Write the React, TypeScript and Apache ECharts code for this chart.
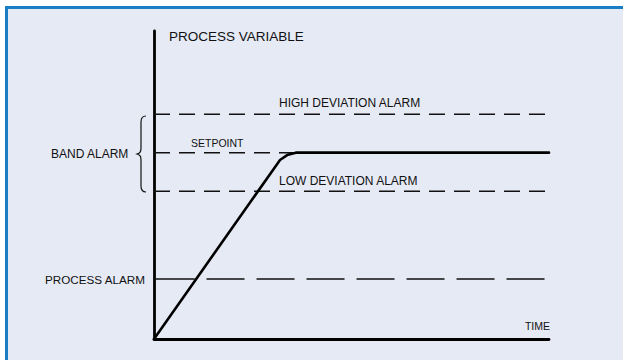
import React, { useEffect, useRef } from "react";
import * as echarts from "echarts";

// ---- data (axis units: time 0..100, process variable 0..100) ----
const timeRange = [0, 100];
const pvRange = [0, 100];
const highDeviationLevel = 73;
const setpointLevel = 60.5;
const lowDeviationLevel = 48;
const processAlarmLevel = 19.5;
const processAlarmSolidSpan = [-2.3, 10.3];
const processAlarmDashedSpan = [13.3, 100];
const pvTime = [0, 29.9, 31.9, 33.7, 35.9, 100];
const pvValue = [0, 54.5, 58.1, 59.7, 60.5, 60.5];

const labels = {
  yName: "PROCESS VARIABLE",
  xName: "TIME",
  high: "HIGH DEVIATION ALARM",
  setpoint: "SETPOINT",
  low: "LOW DEVIATION ALARM",
  band: "BAND ALARM",
  process: "PROCESS ALARM",
};

const FONT = "Liberation Sans";
const INK = "#111111";

export default function App() {
  const ref = useRef<HTMLDivElement>(null);
  useEffect(() => {
    if (!ref.current) return;
    echarts.graphic.registerShape(
      "brace",
      echarts.graphic.extendPath(
        "M146 116 C142 116 141 118 141 122 L141 148 C141 152 140 153 137 154 C140 155 141 156 141 160 L141 186 C141 190 142 192 146 192",
        {}
      )
    );
    const chart = echarts.init(ref.current, null, { renderer: "svg" });
    const hline = (y: number, x0: number, x1: number) => [
      [x0, y],
      [x1, y],
    ];
    const dashStyle = { color: INK, width: 1.5, type: [16, 9] as any };
    chart.setOption({
      animation: false,
      backgroundColor: "#ffffff",
      grid: { left: 154, right: 74, top: 31, bottom: 21 },
      xAxis: {
        type: "value",
        min: timeRange[0],
        max: timeRange[1],
        axisLine: { show: true, onZero: false, lineStyle: { color: "#000", width: 2.8 } },
        axisTick: { show: false },
        axisLabel: { show: false },
        splitLine: { show: false },
      },
      yAxis: {
        type: "value",
        min: pvRange[0],
        max: pvRange[1],
        axisLine: { show: true, onZero: false, lineStyle: { color: "#000", width: 2.8 } },
        axisTick: { show: false },
        axisLabel: { show: false },
        splitLine: { show: false },
      },
      graphic: [
        { type: "rect", z: -10, silent: true, shape: { x: 8, y: 9, width: 615, height: 351 }, style: { fill: "#e6eaf5" } },
        { type: "rect", z: -9, silent: true, shape: { x: 5, y: 6, width: 618, height: 3 }, style: { fill: "#1b7dc4" } },
        { type: "rect", z: -9, silent: true, shape: { x: 5, y: 6, width: 3, height: 354 }, style: { fill: "#1b7dc4" } },
        { type: "brace", x: 0, y: 0, style: { fill: "none", stroke: INK, lineWidth: 1.2 } },
        { type: "text", left: 169, top: 29, style: { text: labels.yName, font: `13.5px "${FONT}"`, fill: INK } },
        { type: "text", x: 279, y: 103, style: { text: labels.high, font: `12px "${FONT}"`, fill: INK, verticalAlign: "middle" } },
        { type: "text", x: 191, y: 143, style: { text: labels.setpoint, font: `10.5px "${FONT}"`, fill: INK, verticalAlign: "middle" } },
        { type: "text", x: 279, y: 181, style: { text: labels.low, font: `12px "${FONT}"`, fill: INK, verticalAlign: "middle" } },
        { type: "text", x: 51, y: 154, style: { text: labels.band, font: `12px "${FONT}"`, fill: INK, verticalAlign: "middle" } },
        { type: "text", x: 145, y: 279, style: { text: labels.process, font: `11.7px "${FONT}"`, fill: INK, verticalAlign: "middle", align: "right" } },
        { type: "text", x: 550, y: 326, style: { text: labels.xName, font: `10.5px "${FONT}"`, fill: INK, verticalAlign: "middle", align: "right" } },
      ],
      series: [
        { type: "line", symbol: "none", data: hline(highDeviationLevel, 0, 100), lineStyle: dashStyle, z: 2 },
        { type: "line", symbol: "none", data: hline(setpointLevel, 0, 100), lineStyle: dashStyle, z: 2 },
        { type: "line", symbol: "none", data: hline(lowDeviationLevel, 0, 100), lineStyle: dashStyle, z: 2 },
        {
          type: "line",
          symbol: "none",
          clip: false,
          data: hline(processAlarmLevel, processAlarmSolidSpan[0], processAlarmSolidSpan[1]),
          lineStyle: { color: INK, width: 1.5 },
          z: 2,
        },
        {
          type: "line",
          symbol: "none",
          data: hline(processAlarmLevel, processAlarmDashedSpan[0], processAlarmDashedSpan[1]),
          lineStyle: { color: INK, width: 1.5, type: [38, 12] as any },
          z: 2,
        },
        {
          type: "line",
          symbol: "none",
          data: pvTime.map((t, i) => [t, pvValue[i]]),
          lineStyle: { color: "#000", width: 2.6, join: "round", cap: "round" },
          z: 3,
        },
      ],
    });
    return () => chart.dispose();
  }, []);
  return (
    <div
      ref={ref}
      style={{ position: "absolute", left: 0, top: 0, width: 623, height: 360 }}
    />
  );
}
